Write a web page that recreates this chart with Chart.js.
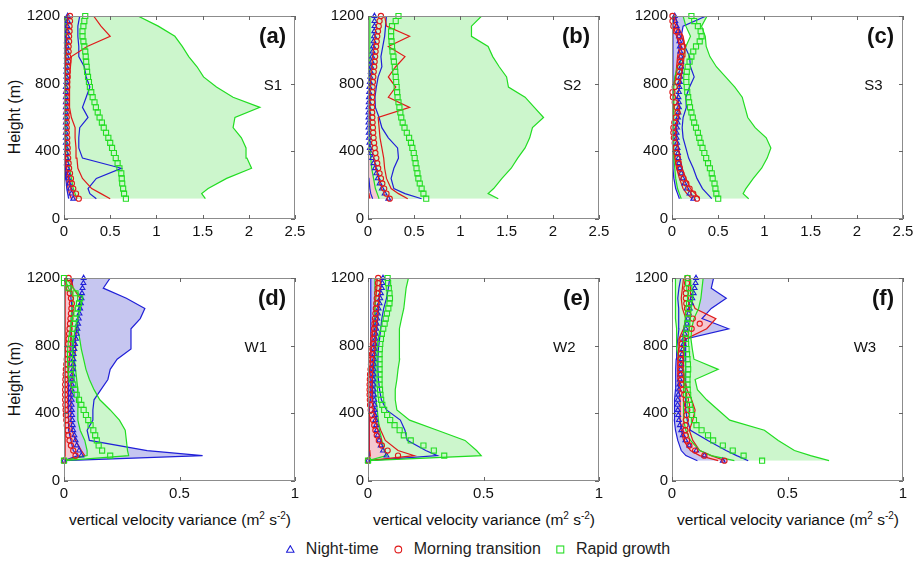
<!DOCTYPE html>
<html>
<head>
<meta charset="utf-8">
<script src="https://cdn.jsdelivr.net/npm/chart.js@4.4.0/dist/chart.umd.min.js"></script>
<style>
  body { margin: 0; width: 916px; height: 564px; overflow: hidden; background: #fff;
         font-family: "Liberation Sans", Arial, sans-serif; color: #111; position: relative; }
  .panel { position: absolute; }
  .ylab { position: absolute; white-space: nowrap; font-size: 16px;
          transform: translate(-50%, -50%) rotate(-90deg); }
  .xlab { position: absolute; white-space: nowrap; font-size: 15.5px; transform: translate(-50%, -50%); }
  .xlab sup { font-size: 10px; vertical-align: 6px; }
  #legend { position: absolute; left: 478px; top: 549px; transform: translate(-50%, -50%);
            display: flex; align-items: center; font-size: 16px; white-space: nowrap; color: #222; }
  #legend span.item { display: flex; align-items: center; margin-left: 15px; }
  #legend span.item:first-child { margin-left: 0; }
  #legend svg { margin-right: 11px; }
</style>
</head>
<body>

<div class="ylab" style="left:15px; top:117px;">Height (m)</div>
<div class="ylab" style="left:15px; top:379px;">Height (m)</div>
<div class="xlab" style="left:180px; top:519px;">vertical velocity variance (m<sup>2</sup> s<sup>-2</sup>)</div>
<div class="xlab" style="left:484px; top:519px;">vertical velocity variance (m<sup>2</sup> s<sup>-2</sup>)</div>
<div class="xlab" style="left:788px; top:519px;">vertical velocity variance (m<sup>2</sup> s<sup>-2</sup>)</div>

<div id="legend">
  <span class="item"><svg width="9" height="8"><polygon points="4.5,0.7 8.3,7.3 0.7,7.3" fill="none" stroke="#2020d8" stroke-width="1.1"/></svg>Night-time</span>
  <span class="item"><svg width="9" height="9"><circle cx="4.5" cy="4.5" r="3.4" fill="none" stroke="#e01a1a" stroke-width="1.1"/></svg>Morning transition</span>
  <span class="item"><svg width="9" height="9"><rect x="1" y="1" width="7" height="7" fill="none" stroke="#22dd22" stroke-width="1.1"/></svg>Rapid growth</span>
</div>

<script>
// heights (m): mean profiles every 30 m, min / max envelopes on a coarser grid
const hMean = [120,150,180,210,240,270,300,330,360,390,420,450,480,510,540,570,600,630,660,690,
               720,750,780,810,840,870,900,930,960,990,1020,1050,1080,1110,1140,1170,1200];
const hEnv = [120,150,180,240,300,360,420,480,540,600,660,720,780,840,900,960,1020,1080,1140,1200];

const xTicksTop = [0, 0.5, 1, 1.5, 2, 2.5];
const xLabelsTop = ['0', '0.5', '1', '1.5', '2', '2.5'];
const xTicksBottom = [0, 0.5, 1];
const xLabelsBottom = ['0', '0.5', '1'];
const yTicks = [0, 400, 800, 1200];
const yLabels = ['0', '400', '800', '1200'];

const regimes = ['Night-time', 'Morning transition', 'Rapid growth'];
const panelTags = ['(a)', '(b)', '(c)', '(d)', '(e)', '(f)'];
const siteNames = ['S1', 'S2', 'S3', 'W1', 'W2', 'W3'];

// (a) S1
const aNightMean = [0.1,0.08,0.065,0.055,0.045,0.04,0.035,0.03,0.03,0.025,0.025,0.02,0.02,0.02,0.02,0.02,0.02,0.02,0.02,0.02,0.02,0.02,0.02,0.025,0.025,0.025,0.025,0.03,0.03,0.03,0.03,0.03,0.035,0.035,0.035,0.04,0.04];
const aNightMin = [0.05,0.04,0.03,0.02,0.015,0.01,0.01,0.01,0.01,0.01,0.01,0.01,0.01,0.01,0.01,0.01,0.01,0.01,0.01,0.01];
const aNightMax = [0.35,0.28,0.26,0.35,0.62,0.2,0.16,0.16,0.17,0.26,0.2,0.24,0.28,0.24,0.22,0.16,0.16,0.15,0.15,0.17];
const aMornMean = [0.16,0.13,0.1,0.085,0.075,0.065,0.055,0.05,0.045,0.04,0.04,0.035,0.035,0.03,0.03,0.03,0.03,0.03,0.03,0.03,0.03,0.03,0.035,0.035,0.04,0.04,0.04,0.045,0.045,0.05,0.05,0.055,0.055,0.06,0.06,0.065,0.065];
const aMornMin = [0.08,0.06,0.045,0.03,0.02,0.015,0.01,0.01,0.01,0.01,0.01,0.01,0.01,0.01,0.01,0.01,0.015,0.02,0.02,0.02];
const aMornMax = [0.5,0.4,0.3,0.2,0.15,0.14,0.13,0.12,0.12,0.08,0.06,0.06,0.06,0.06,0.07,0.08,0.25,0.5,0.4,0.32];
const aGrowMean = [0.67,0.65,0.64,0.63,0.625,0.62,0.6,0.58,0.56,0.54,0.52,0.5,0.48,0.455,0.43,0.41,0.385,0.365,0.345,0.33,0.31,0.295,0.28,0.27,0.26,0.25,0.245,0.24,0.235,0.23,0.22,0.21,0.2,0.2,0.21,0.22,0.23];
const aGrowMin = [0.14,0.12,0.1,0.08,0.06,0.04,0.03,0.02,0.02,0.02,0.02,0.02,0.02,0.02,0.02,0.02,0.02,0.02,0.02,0.02];
const aGrowMax = [1.53,1.49,1.56,1.76,2.03,1.98,1.97,1.92,1.83,1.85,2.12,1.83,1.65,1.51,1.44,1.35,1.28,1.2,1.02,0.8];

// (b) S2
const bNightMean = [0.22,0.18,0.15,0.125,0.105,0.09,0.075,0.06,0.045,0.03,0.02,0.015,0.01,0.008,0.005,0.005,0.005,0.005,0.005,0.008,0.01,0.012,0.015,0.02,0.025,0.03,0.035,0.04,0.045,0.05,0.055,0.06,0.065,0.068,0.07,0.07,0.07];
const bNightMin = [0.05,0.03,0.02,0.01,0.005,0,0,0,0,0,0,0,0,0,0,0,0,0,0,0];
const bNightMax = [0.58,0.4,0.28,0.25,0.28,0.33,0.32,0.22,0.15,0.12,0.08,0.075,0.09,0.11,0.15,0.14,0.16,0.18,0.19,0.2];
const bMornMean = [0.235,0.2,0.175,0.155,0.14,0.125,0.11,0.1,0.09,0.08,0.072,0.066,0.06,0.056,0.053,0.05,0.047,0.045,0.045,0.045,0.045,0.047,0.05,0.053,0.057,0.062,0.067,0.072,0.077,0.082,0.088,0.094,0.1,0.108,0.116,0.125,0.14];
const bMornMin = [0.02,0.01,0.005,0,0,0,0,0,0,0,0,0,0,0,0,0,0,0,0,0];
const bMornMax = [0.43,0.33,0.25,0.2,0.18,0.17,0.15,0.13,0.12,0.11,0.45,0.22,0.3,0.22,0.3,0.4,0.22,0.45,0.2,0.18];
const bGrowMean = [0.63,0.6,0.58,0.56,0.545,0.535,0.525,0.515,0.505,0.495,0.48,0.465,0.445,0.42,0.395,0.375,0.36,0.35,0.34,0.33,0.32,0.315,0.31,0.305,0.3,0.295,0.29,0.28,0.275,0.265,0.26,0.255,0.25,0.25,0.26,0.3,0.33];
const bGrowMin = [0.12,0.1,0.08,0.06,0.04,0.03,0.02,0.02,0.02,0.02,0.02,0.02,0.02,0.02,0.02,0.02,0.02,0.02,0.02,0.02];
const bGrowMax = [1.41,1.3,1.36,1.45,1.55,1.62,1.7,1.75,1.78,1.9,1.8,1.7,1.52,1.5,1.42,1.35,1.3,1.12,1.12,1.23];

// (c) S3
const cNightMean = [0.23,0.19,0.16,0.135,0.115,0.1,0.085,0.075,0.07,0.065,0.06,0.055,0.05,0.05,0.055,0.06,0.065,0.07,0.075,0.075,0.07,0.075,0.08,0.085,0.09,0.095,0.1,0.1,0.095,0.09,0.085,0.08,0.075,0.065,0.05,0.035,0.03];
const cNightMin = [0.08,0.06,0.04,0.02,0.01,0.01,0.01,0.01,0.01,0.01,0.01,0.01,0.01,0.01,0.01,0.01,0.01,0.01,0.01,0.02];
const cNightMax = [0.43,0.38,0.33,0.27,0.23,0.18,0.15,0.12,0.11,0.12,0.155,0.15,0.19,0.24,0.2,0.19,0.14,0.1,0.12,0.37];
const cMornMean = [0.27,0.23,0.19,0.155,0.125,0.1,0.085,0.07,0.06,0.05,0.04,0.03,0.02,0.015,0.015,0.025,0.04,0.06,0.05,0.03,0.01,0.005,0.03,0.06,0.07,0.08,0.085,0.09,0.1,0.11,0.12,0.1,0.08,0.04,0.015,0.005,0.005];
const cMornMin = [0.22,0.16,0.12,0.08,0.05,0.03,0.01,0,0,0.01,0.02,0,0.01,0.04,0.05,0.06,0.08,0.05,0.01,0];
const cMornMax = [0.3,0.25,0.2,0.15,0.11,0.09,0.07,0.05,0.05,0.07,0.08,0.06,0.08,0.1,0.12,0.13,0.14,0.12,0.06,0.04];
const cGrowMean = [0.5,0.48,0.47,0.46,0.44,0.43,0.41,0.39,0.37,0.35,0.33,0.31,0.295,0.28,0.26,0.24,0.225,0.21,0.195,0.185,0.175,0.165,0.16,0.155,0.155,0.16,0.17,0.19,0.21,0.23,0.26,0.3,0.32,0.31,0.28,0.24,0.21];
const cGrowMin = [0.1,0.08,0.06,0.04,0.03,0.02,0.02,0.02,0.02,0.02,0.02,0.02,0.02,0.03,0.06,0.12,0.15,0.2,0.15,0.12];
const cGrowMax = [0.83,0.77,0.8,0.88,0.97,1.03,1.07,1.02,0.9,0.82,0.79,0.76,0.68,0.58,0.48,0.41,0.37,0.36,0.32,0.38];

// (d) W1
const dNightMean = [0,0.075,0.065,0.055,0.05,0.045,0.04,0.038,0.036,0.035,0.034,0.033,0.033,0.033,0.033,0.034,0.035,0.037,0.039,0.04,0.041,0.042,0.045,0.048,0.052,0.055,0.058,0.061,0.064,0.067,0.07,0.073,0.076,0.078,0.08,0.084,0.085];
const dNightMin = [0,0.06,0.04,0.03,0.02,0.02,0.02,0.02,0.02,0.02,0.02,0.025,0.03,0.03,0.03,0.035,0.035,0.03,0.03,0.04];
const dNightMax = [0,0.6,0.36,0.11,0.1,0.125,0.125,0.13,0.16,0.19,0.2,0.23,0.29,0.29,0.29,0.33,0.35,0.27,0.17,0.2];
const dMornMean = [0,0.05,0.04,0.03,0.024,0.019,0.015,0.012,0.01,0.008,0.007,0.006,0.005,0.005,0.005,0.005,0.006,0.007,0.008,0.01,0.012,0.014,0.016,0.018,0.02,0.022,0.024,0.026,0.028,0.03,0.032,0.034,0.03,0.025,0.022,0.02,0.02];
const dMornMin = [0,0.005,0.005,0.005,0.005,0.005,0.005,0.005,0.005,0.005,0.005,0.005,0.005,0.005,0.005,0.005,0.005,0.005,0.005,0.005];
const dMornMax = [0,0.09,0.075,0.05,0.035,0.03,0.03,0.03,0.03,0.035,0.04,0.045,0.05,0.05,0.055,0.06,0.065,0.07,0.04,0.03];
const dGrowMean = [0,0.2,0.165,0.15,0.142,0.135,0.127,0.115,0.105,0.095,0.085,0.075,0.065,0.055,0.048,0.04,0.033,0.03,0.028,0.027,0.026,0.026,0.027,0.029,0.031,0.034,0.038,0.042,0.048,0.054,0.06,0.065,0.07,0.05,0.02,0,0];
const dGrowMin = [0,0.1,0.1,0.09,0.07,0.06,0.06,0.06,0.06,0.055,0.05,0.045,0.04,0.035,0.03,0.03,0.035,0.04,0.02,0];
const dGrowMax = [0,0.28,0.275,0.27,0.265,0.24,0.2,0.155,0.13,0.11,0.095,0.085,0.075,0.068,0.06,0.06,0.065,0.08,0.04,0.01];

// (e) W2
const eNightMean = [0,0.08,0.065,0.055,0.048,0.042,0.038,0.035,0.032,0.03,0.029,0.028,0.027,0.026,0.025,0.025,0.025,0.025,0.025,0.026,0.027,0.028,0.029,0.03,0.032,0.034,0.036,0.038,0.04,0.043,0.046,0.05,0.053,0.056,0.06,0.062,0.065];
const eNightMin = [0,0.005,0.005,0.005,0.005,0.006,0.008,0.01,0.012,0.012,0.012,0.012,0.012,0.012,0.012,0.012,0.012,0.012,0.012,0.012];
const eNightMax = [0,0.3,0.25,0.17,0.16,0.14,0.08,0.058,0.05,0.045,0.043,0.043,0.045,0.05,0.055,0.06,0.068,0.08,0.088,0.094];
const eMornMean = [0,0.13,0.085,0.06,0.047,0.038,0.032,0.027,0.022,0.017,0.012,0.009,0.008,0.007,0.007,0.007,0.008,0.009,0.011,0.013,0.015,0.017,0.019,0.021,0.022,0.024,0.026,0.028,0.03,0.032,0.034,0.036,0.038,0.04,0.042,0.043,0.044];
const eMornMin = [0,0.01,0.008,0.006,0.005,0.005,0.004,0.004,0.003,0.004,0.007,0.011,0.015,0.018,0.022,0.026,0.03,0.034,0.038,0.04];
const eMornMax = [0,0.2,0.13,0.075,0.055,0.04,0.028,0.02,0.019,0.02,0.023,0.027,0.031,0.034,0.038,0.042,0.046,0.05,0.054,0.056];
const eGrowMean = [0,0.33,0.285,0.24,0.185,0.155,0.137,0.115,0.096,0.083,0.07,0.062,0.057,0.054,0.052,0.05,0.05,0.05,0.05,0.05,0.05,0.05,0.051,0.053,0.056,0.06,0.066,0.072,0.077,0.082,0.088,0.093,0.095,0.093,0.09,0.087,0.085];
const eGrowMin = [0,0.08,0.07,0.06,0.05,0.045,0.04,0.035,0.03,0.03,0.03,0.03,0.03,0.03,0.03,0.03,0.03,0.03,0.03,0.03];
const eGrowMax = [0,0.49,0.47,0.42,0.3,0.18,0.125,0.118,0.118,0.125,0.13,0.137,0.138,0.135,0.135,0.145,0.155,0.16,0.165,0.175];

// (f) W3
const fNightMean = [0.22,0.14,0.105,0.075,0.058,0.047,0.04,0.034,0.03,0.027,0.025,0.024,0.025,0.027,0.03,0.032,0.034,0.036,0.038,0.04,0.042,0.044,0.047,0.05,0.052,0.055,0.06,0.065,0.069,0.073,0.077,0.082,0.088,0.094,0.098,0.102,0.104];
const fNightMin = [0.11,0.06,0.04,0.025,0.015,0.01,0.01,0.012,0.015,0.016,0.016,0.018,0.02,0.025,0.03,0.03,0.028,0.025,0.03,0.038];
const fNightMax = [0.33,0.28,0.234,0.155,0.08,0.066,0.06,0.06,0.058,0.058,0.06,0.058,0.06,0.06,0.245,0.13,0.17,0.235,0.17,0.18];
const fMornMean = [0.227,0.14,0.1,0.075,0.065,0.06,0.058,0.058,0.06,0.063,0.066,0.065,0.06,0.053,0.047,0.043,0.04,0.038,0.037,0.037,0.037,0.038,0.04,0.042,0.045,0.06,0.085,0.12,0.09,0.07,0.065,0.062,0.06,0.06,0.062,0.065,0.067];
const fMornMin = [0.2,0.12,0.08,0.05,0.04,0.035,0.035,0.035,0.03,0.025,0.025,0.025,0.028,0.03,0.05,0.06,0.045,0.04,0.045,0.05];
const fMornMax = [0.23,0.17,0.12,0.09,0.075,0.09,0.1,0.085,0.065,0.055,0.05,0.05,0.052,0.06,0.15,0.19,0.1,0.08,0.08,0.08];
const fGrowMean = [0.39,0.31,0.263,0.22,0.178,0.156,0.128,0.106,0.095,0.087,0.081,0.077,0.073,0.07,0.068,0.067,0.067,0.068,0.07,0.069,0.067,0.065,0.063,0.061,0.06,0.061,0.063,0.066,0.068,0.07,0.072,0.074,0.078,0.08,0.075,0.07,0.067];
const fGrowMin = [0.27,0.17,0.12,0.08,0.06,0.05,0.05,0.05,0.05,0.05,0.05,0.03,0.02,0.02,0.02,0.015,0.015,0.015,0.015,0.015];
const fGrowMax = [0.68,0.6,0.53,0.46,0.4,0.25,0.2,0.15,0.11,0.1,0.2,0.095,0.088,0.082,0.085,0.095,0.115,0.125,0.13,0.135];

const nightData = [[aNightMean,aNightMin,aNightMax],[bNightMean,bNightMin,bNightMax],[cNightMean,cNightMin,cNightMax],
                   [dNightMean,dNightMin,dNightMax],[eNightMean,eNightMin,eNightMax],[fNightMean,fNightMin,fNightMax]];
const mornData = [[aMornMean,aMornMin,aMornMax],[bMornMean,bMornMin,bMornMax],[cMornMean,cMornMin,cMornMax],
                  [dMornMean,dMornMin,dMornMax],[eMornMean,eMornMin,eMornMax],[fMornMean,fMornMin,fMornMax]];
const growData = [[aGrowMean,aGrowMin,aGrowMax],[bGrowMean,bGrowMin,bGrowMax],[cGrowMean,cGrowMin,cGrowMax],
                  [dGrowMean,dGrowMin,dGrowMax],[eGrowMean,eGrowMin,eGrowMax],[fGrowMean,fGrowMin,fGrowMax]];

// layout: plot-area corner of each panel on the page
const layout = [
  {left: 64,  top: 15,  site: 2.26}, {left: 368, top: 15,  site: 2.21}, {left: 672, top: 15,  site: 2.18},
  {left: 64,  top: 277, site: 0.83}, {left: 368, top: 277, site: 0.85}, {left: 672, top: 277, site: 0.835}
];
const PLOT_W = 231, PLOT_H = 204, PAD_L = 50, PAD_T = 12, PAD_R = 16, PAD_B = 24;

const BLUE = '#2020d8', RED = '#e01a1a', GREEN = '#22dd22';
const BLUE_FILL = 'rgb(198,198,240)', RED_FILL = 'rgb(245,200,208)', GREEN_FILL = 'rgb(204,246,204)';
const FONT = '"Liberation Sans", Arial, sans-serif';
Chart.defaults.font.family = FONT;

const pts = (hs, vals) => hs.map((h, i) => ({x: vals[i], y: h}));

function envelope(maxV, minV, color, fillColor, order) {
  return [
    {data: pts(hEnv, maxV), borderColor: color, backgroundColor: fillColor, fill: '+1',
     borderWidth: 1.2, pointRadius: 0, order},
    {data: pts(hEnv, minV), borderColor: color, backgroundColor: fillColor, fill: false,
     borderWidth: 1.2, pointRadius: 0, order}
  ];
}

function meanProfile(label, vals, color, style, radius, order) {
  return {label, data: pts(hMean, vals), showLine: false, borderColor: color,
          pointStyle: style, pointRadius: radius, pointBorderColor: color,
          pointBackgroundColor: 'rgba(0,0,0,0)', pointBorderWidth: 1.1, clip: false, order};
}

const boxPlugin = {
  id: 'box',
  afterDatasetsDraw(chart) {
    const {ctx, chartArea: a, scales: {x, y}} = chart;
    ctx.save();
    ctx.strokeStyle = '#8c8c8c';
    ctx.lineWidth = 1;
    ctx.strokeRect(a.left + 0.5, a.top + 0.5, a.right - a.left - 1, a.bottom - a.top - 1);
    ctx.strokeStyle = '#666';
    ctx.beginPath();
    x.ticks.forEach(t => {
      const px = Math.round(x.getPixelForValue(t.value)) + 0.5;
      ctx.moveTo(px, a.bottom); ctx.lineTo(px, a.bottom - 4);
      ctx.moveTo(px, a.top); ctx.lineTo(px, a.top + 4);
    });
    y.ticks.forEach(t => {
      const py = Math.round(y.getPixelForValue(t.value)) + 0.5;
      ctx.moveTo(a.left, py); ctx.lineTo(a.left + 4, py);
      ctx.moveTo(a.right, py); ctx.lineTo(a.right - 4, py);
    });
    ctx.stroke();
    ctx.restore();
  },
  afterDraw(chart, args, opts) {
    const {ctx, chartArea: a, scales: {x, y}} = chart;
    ctx.save();
    ctx.fillStyle = '#111';
    ctx.font = 'bold 22px ' + FONT;
    ctx.textAlign = 'right';
    ctx.textBaseline = 'middle';
    ctx.fillText(opts.tag, a.right - 9, a.top + 21);
    ctx.font = '15px ' + FONT;
    ctx.textAlign = 'center';
    ctx.fillText(opts.site, x.getPixelForValue(opts.siteX), y.getPixelForValue(785));
    ctx.restore();
  }
};

layout.forEach((p, i) => {
  const top = i < 3;
  const xTicks = top ? xTicksTop : xTicksBottom;
  const xLabels = top ? xLabelsTop : xLabelsBottom;
  const [nMean, nMin, nMax] = nightData[i];
  const [mMean, mMin, mMax] = mornData[i];
  const [gMean, gMin, gMax] = growData[i];

  const wrap = document.createElement('div');
  wrap.className = 'panel';
  wrap.style.left = (p.left - PAD_L) + 'px';
  wrap.style.top = (p.top - PAD_T) + 'px';
  const canvas = document.createElement('canvas');
  canvas.width = PAD_L + PLOT_W + PAD_R;
  canvas.height = PAD_T + PLOT_H + PAD_B;
  wrap.appendChild(canvas);
  document.body.appendChild(wrap);

  new Chart(canvas, {
    type: 'line',
    data: {
      datasets: [
        ...envelope(nMax, nMin, BLUE, BLUE_FILL, 6),
        ...envelope(mMax, mMin, RED, RED_FILL, 5),
        ...envelope(gMax, gMin, GREEN, GREEN_FILL, 4),
        meanProfile(regimes[0], nMean, BLUE, 'triangle', 2.8, 3),
        meanProfile(regimes[1], mMean, RED, 'circle', 2.6, 2),
        meanProfile(regimes[2], gMean, GREEN, 'rect', 3.6, 1)
      ]
    },
    options: {
      responsive: false,
      animation: false,
      indexAxis: 'y',
      layout: {padding: {left: 0, top: PAD_T, right: PAD_R, bottom: 0}},
      elements: {line: {tension: 0}},
      plugins: {
        legend: {display: false},
        tooltip: {enabled: false},
        filler: {drawTime: 'beforeDatasetsDraw'},
        box: {tag: panelTags[i], site: siteNames[i], siteX: p.site}
      },
      scales: {
        x: {
          type: 'linear', min: 0, max: xTicks[xTicks.length - 1],
          afterBuildTicks: s => { s.ticks = xTicks.map(v => ({value: v})); },
          afterFit: s => { s.height = PAD_B; },
          grid: {display: false, drawTicks: false},
          border: {display: false},
          ticks: {padding: 4, color: '#111', font: {size: 15}, maxRotation: 0,
                  callback: (v, k) => xLabels[k]}
        },
        y: {
          type: 'linear', min: 0, max: 1200,
          afterBuildTicks: s => { s.ticks = yTicks.map(v => ({value: v})); },
          afterFit: s => { s.width = PAD_L; },
          grid: {display: false, drawTicks: false},
          border: {display: false},
          ticks: {padding: 4, color: '#111', font: {size: 15},
                  callback: (v, k) => yLabels[k]}
        }
      }
    },
    plugins: [boxPlugin]
  });
});
</script>
</body>
</html>
